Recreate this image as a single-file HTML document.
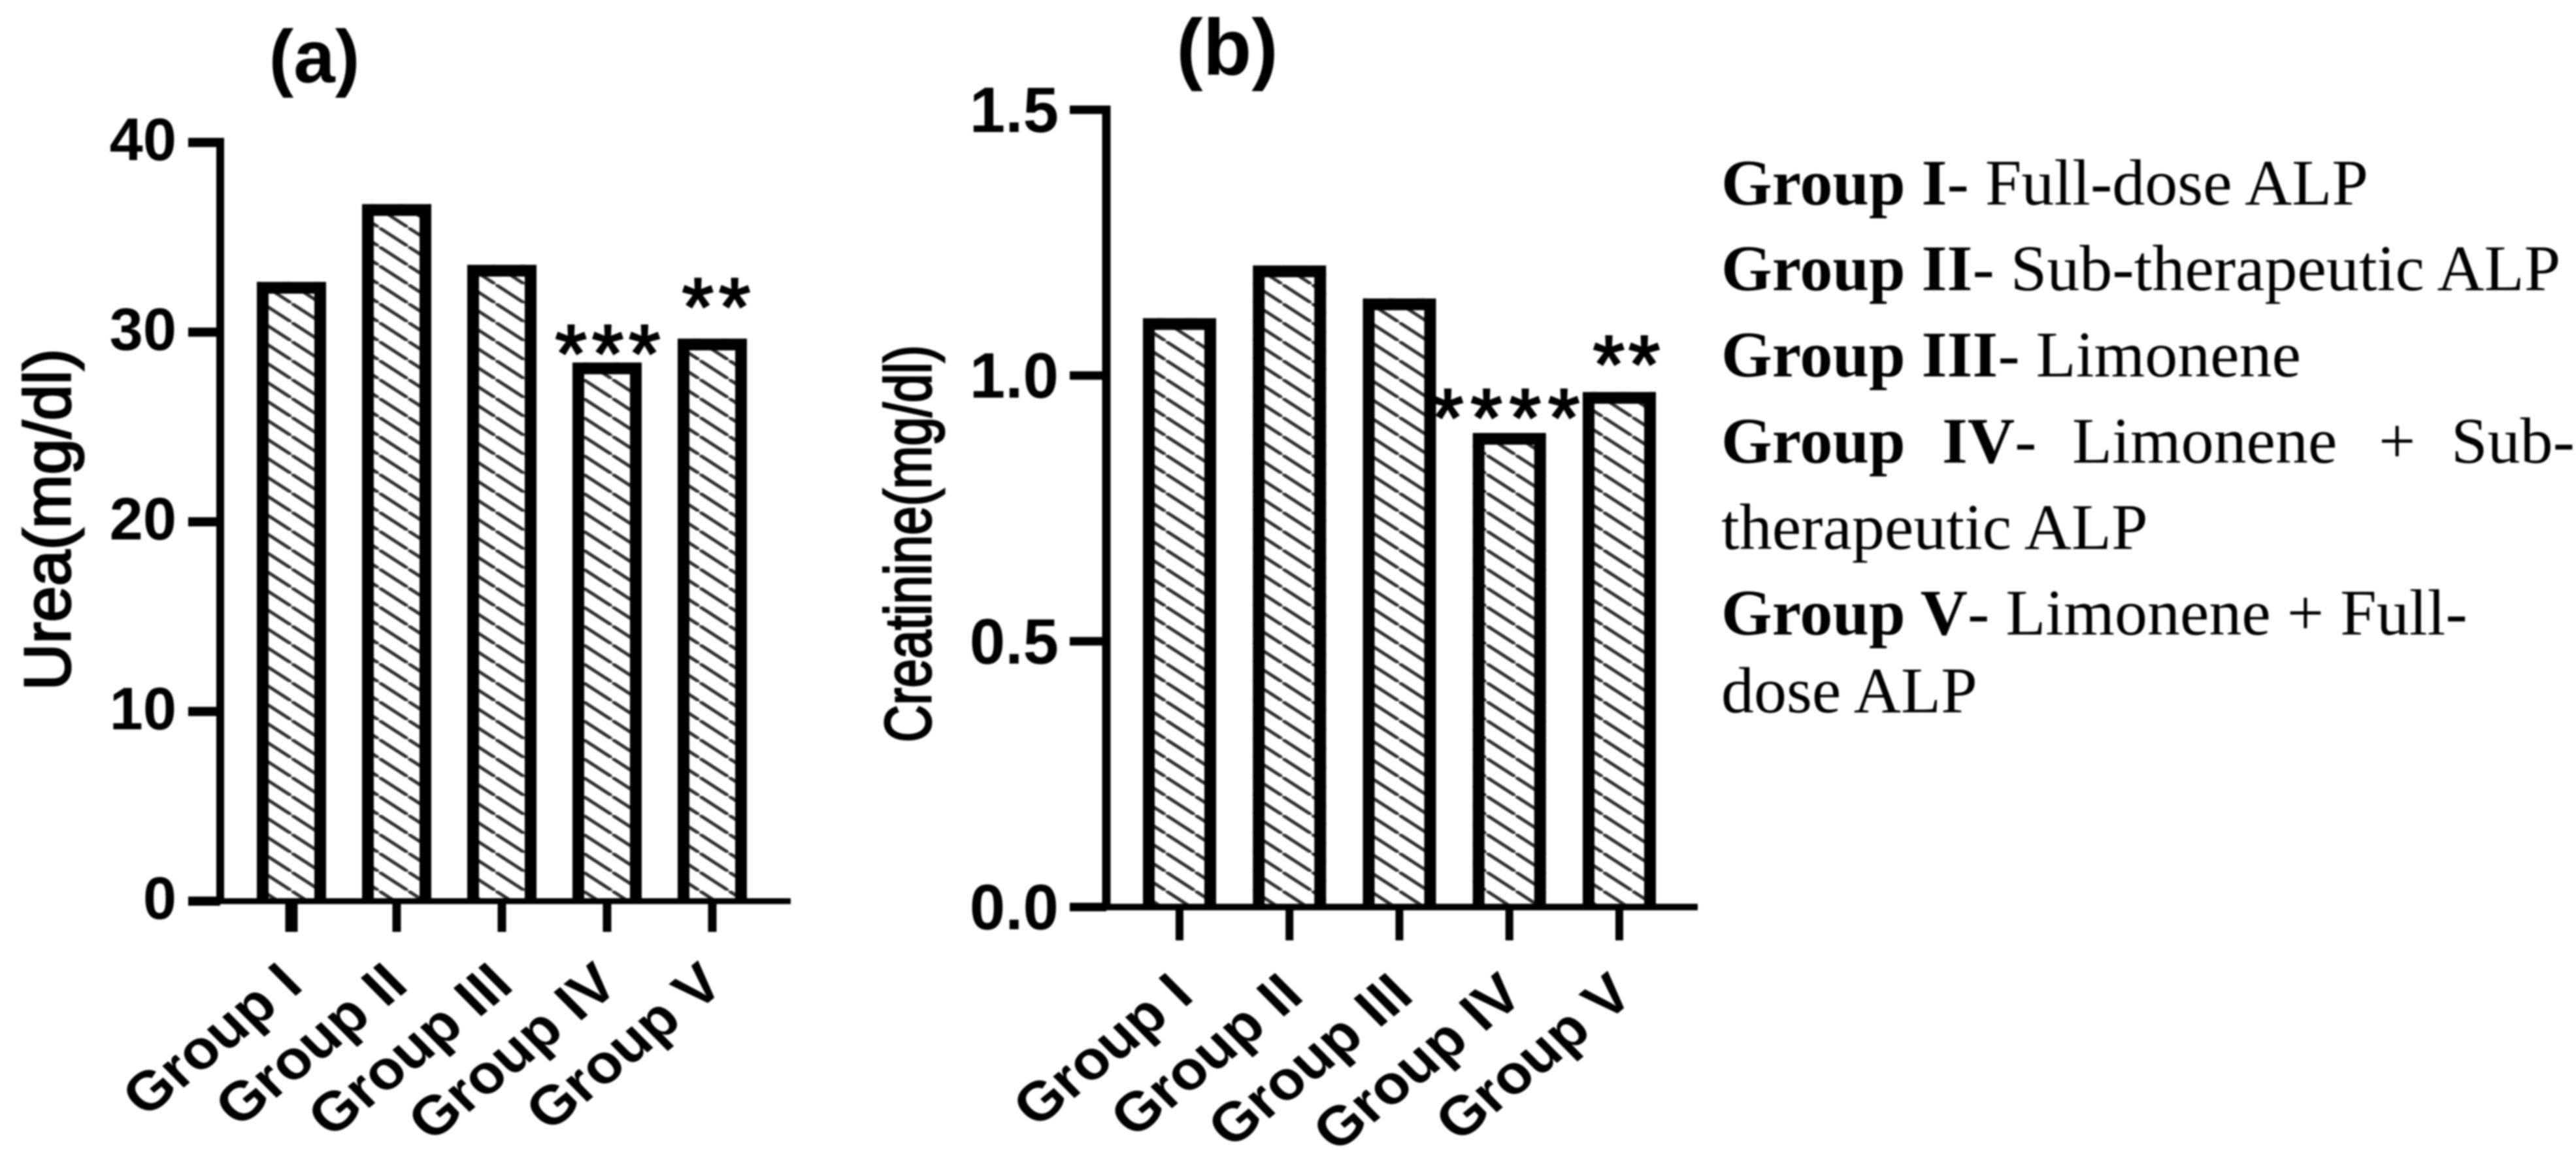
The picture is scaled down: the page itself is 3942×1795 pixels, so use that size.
<!DOCTYPE html>
<html lang="en">
<head>
<meta charset="utf-8">
<title>Urea and creatinine by group</title>
<style>
  html, body { margin: 0; padding: 0; background: #fff; }
  svg { display: block; filter: blur(1.2px); }
  text { font-family: "Liberation Sans", Arial, sans-serif; fill: #000; }
  .legend text { font-family: "Liberation Serif", "Times New Roman", serif; font-size: 100px; }
  .legend .b { font-weight: bold; }
  .title { font-weight: bold; }
</style>
</head>
<body>
<svg id="chart" xmlns="http://www.w3.org/2000/svg" width="3942" height="1795" viewBox="0 0 3942 1795">
  <defs>
    <pattern id="hatch" patternUnits="userSpaceOnUse" width="44.6" height="29">
      <rect width="44.6" height="29" fill="#fff"></rect>
      <line x1="-44.6" y1="-29" x2="89.2" y2="58" stroke="#2e2e2e" stroke-width="5"></line>
    </pattern>
  </defs>
  <rect width="3942" height="1795" fill="#fff"></rect>

  <text class="title" x="481" y="126" font-size="114" text-anchor="middle">(a)</text>
  <text class="title" x="1878" y="114" font-size="122" text-anchor="middle">(b)</text>

  <g id="panel-a"></g>
  <g id="panel-b"></g>

  <g class="legend">
    <text x="2634" y="313"><tspan class="b">Group I</tspan>- Full-dose ALP</text>
    <text x="2634" y="444"><tspan class="b">Group II</tspan>- Sub-therapeutic ALP</text>
    <text x="2634" y="576"><tspan class="b">Group III</tspan>- Limonene</text>
    <text x="2634" y="708"><tspan class="b">Group</tspan><tspan class="b" x="2972">IV</tspan>-<tspan x="3171">Limonene</tspan><tspan x="3640">+</tspan><tspan x="3751">Sub-</tspan></text>
    <text x="2634" y="840">therapeutic ALP</text>
    <text x="2634" y="971"><tspan class="b">Group V</tspan>- Limonene + Full-</text>
    <text x="2634" y="1090">dose ALP</text>
  </g>
</svg>

<script>
const categories = ["Group I", "Group II", "Group III", "Group IV", "Group V"];
const ureaValues = [32.65, 36.75, 33.55, 28.4, 29.66];
const creatinineValues = [1.108, 1.207, 1.145, 0.892, 0.969];
const ureaTicks = [0, 10, 20, 30, 40];
const ureaTickLabels = ["0", "10", "20", "30", "40"];
const creatinineTicks = [0, 0.5, 1, 1.5];
const creatinineTickLabels = ["0.0", "0.5", "1.0", "1.5"];
const ureaSignificance = ["", "", "", "***", "**"];
const creatinineSignificance = ["", "", "", "****", "**"];

const NS = "http://www.w3.org/2000/svg";

function make(parent, tag, attrs, text) {
  const el = document.createElementNS(NS, tag);
  for (const k in attrs) el.setAttribute(k, attrs[k]);
  if (text !== undefined) el.textContent = text;
  parent.appendChild(el);
  return el;
}

function drawPanel(cfg) {
  const root = document.getElementById(cfg.id);
  const y = v => cfg.y0 + (cfg.yTop - cfg.y0) * (v - cfg.min) / (cfg.max - cfg.min);
  const x = i => cfg.x0 + cfg.step * i;

  cfg.values.forEach((v, i) => {
    const s = cfg.barStroke;
    const left = x(i) - cfg.barW / 2;
    const fill = make(root, "rect", {
      x: left,
      y: y(v),
      width: cfg.barW,
      height: cfg.y0 - y(v),
      fill: "url(#hatch)"
    });
    
    

    const bar = make(root, "path", {
      d: "M" + (left + s / 2) + " " + cfg.y0 +
         " V" + (y(v) + s / 2) +
         " H" + (left + cfg.barW - s / 2) +
         " V" + cfg.y0,
      fill: "none",
      stroke: "#000",
      "stroke-width": s
    });
    
    

    const tick = make(root, "rect", {
      x: x(i) - cfg.xTickW(i) / 2,
      y: cfg.y0,
      width: cfg.xTickW(i),
      height: cfg.xTickLen,
      fill: "#000"
    });
    
    

    const lx = x(i) + cfg.labelDx;
    const ly = cfg.y0 + cfg.labelDy;
    const label = make(root, "text", {
      transform: "translate(" + lx + " " + ly + ") scale(1.1 1) rotate(-42)",
      "text-anchor": "end",
      "font-size": cfg.xFont,
      "font-weight": "bold"
    }, categories[i]);
    
    

    if (cfg.sig[i]) {
      const mark = make(root, "text", {
        x: x(i) + cfg.sigDx[i],
        y: y(v) - cfg.sigLift[i] + 60,
        "text-anchor": "middle",
        "font-size": 124,
        "letter-spacing": cfg.sigSpacing[i],
        stroke: "#000",
        "stroke-width": 3
      }, cfg.sig[i]);
      
      
    }
  });

  const yAxis = make(root, "rect", {
    x: cfg.axisX - cfg.yAxisW / 2,
    y: y(cfg.max) - cfg.yTickH / 2,
    width: cfg.yAxisW,
    height: cfg.y0 - y(cfg.max) + cfg.yTickH / 2,
    fill: "#000"
  });
  
  

  const xAxis = make(root, "rect", {
    x: cfg.xAxisStart,
    y: cfg.y0 - cfg.xAxisH / 2,
    width: cfg.xAxisEnd - cfg.xAxisStart,
    height: cfg.xAxisH,
    fill: "#000"
  });
  
  

  cfg.ticks.forEach((t, i) => {
    const tick = make(root, "rect", {
      x: cfg.xAxisStart,
      y: y(t) - cfg.yTickH / 2,
      width: cfg.axisX - cfg.xAxisStart,
      height: cfg.yTickH,
      fill: "#000"
    });
    
    

    const label = make(root, "text", {
      x: cfg.yLabelX,
      y: y(t) + cfg.yLabelDy,
      "text-anchor": "end",
      "font-size": cfg.yFont,
      "font-weight": "bold"
    }, cfg.tickLabels[i]);
    
    
  });

  const title = make(root, "text", {
    transform: "translate(" + cfg.titleX + " " + cfg.titleY + ") rotate(-90)",
    "text-anchor": "middle",
    "font-size": cfg.titleFont,
    stroke: "#000",
    "stroke-width": 3,
    textLength: cfg.titleLen,
    lengthAdjust: "spacingAndGlyphs"
  }, cfg.title);
  
  
}

drawPanel({
  id: "panel-a",
  values: ureaValues,
  ticks: ureaTicks,
  tickLabels: ureaTickLabels,
  sig: ureaSignificance,
  sigLift: [0, 0, 0, 31, 66],
  sigDx: [0, 0, 0, 5, 10],
  sigSpacing: [0, 0, 0, 8, 8],
  min: 0, max: 40,
  y0: 1379, yTop: 218,
  x0: 446, step: 161,
  barW: 106, barStroke: 18,
  axisX: 337, yAxisW: 12, yTickH: 14,
  xAxisStart: 288, xAxisEnd: 1210, xAxisH: 9,
  xTickW: i => (i === 0 ? 19 : 13), xTickLen: 47,
  labelDx: 21, labelDy: 133, xFont: 84,
  yLabelX: 270, yLabelDy: 27, yFont: 92,
  title: "Urea(mg/dl)", titleX: 107, titleY: 795, titleFont: 100, titleLen: 523
});

drawPanel({
  id: "panel-b",
  values: creatinineValues,
  ticks: creatinineTicks,
  tickLabels: creatinineTickLabels,
  sig: creatinineSignificance,
  sigLift: [0, 0, 0, 41, 60],
  sigDx: [0, 0, 0, 0, 14],
  sigSpacing: [0, 0, 0, 11, 6],
  min: 0, max: 1.5,
  y0: 1388, yTop: 168,
  x0: 1805, step: 168.25,
  barW: 112, barStroke: 18,
  axisX: 1693, yAxisW: 13, yTickH: 13,
  xAxisStart: 1637, xAxisEnd: 2598, xAxisH: 10,
  xTickW: () => 12, xTickLen: 51,
  labelDx: 25, labelDy: 140, xFont: 84,
  yLabelX: 1620, yLabelDy: 34, yFont: 98,
  title: "Creatinine(mg/dl)", titleX: 1424, titleY: 832, titleFont: 100, titleLen: 608
});
</script>
</body>
</html>
